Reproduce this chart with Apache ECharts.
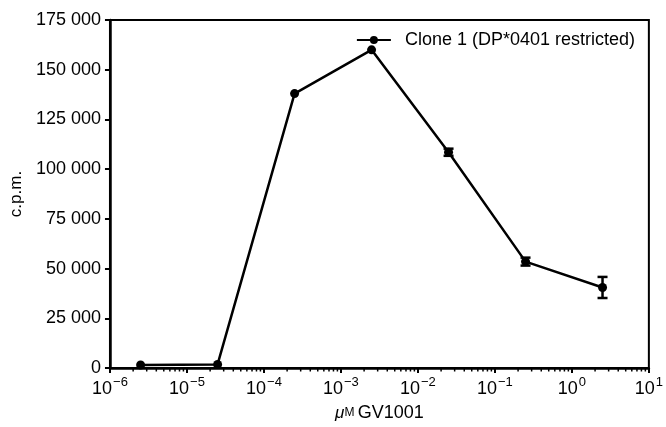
<!DOCTYPE html>
<html>
<head>
<meta charset="utf-8">
<script src="https://cdn.jsdelivr.net/npm/echarts@6/dist/echarts.min.js"></script>
<style>
html,body{margin:0;padding:0;background:#fff;}
#chart{width:666px;height:427px;}
</style>
</head>
<body>
<div id="chart"></div>
<script>
var concentrations = [2.5e-6, 2.5e-5, 2.5e-4, 2.5e-3, 2.5e-2, 2.5e-1, 2.5];
var cpm = [1500, 1800, 138000, 160000, 108500, 53500, 40500];
var cpmError = [0, 0, 0, 0, 1800, 2000, 5300];
var seriesName = 'Clone 1 (DP*0401 restricted)';
var yTicks = [0, 25000, 50000, 75000, 100000, 125000, 150000, 175000];
var xDecades = [-6, -5, -4, -3, -2, -1, 0, 1];

var FONT = 'Liberation Sans, Arial, Helvetica, sans-serif';

var lineData = concentrations.map(function (c, i) { return [c, cpm[i]]; });
var errData = concentrations.map(function (c, i) { return [c, cpm[i], cpmError[i]]; });
var minorTicks = [];
for (var d = 0; d < xDecades.length - 1; d++) {
  for (var k = 2; k <= 9; k++) minorTicks.push([k * Math.pow(10, xDecades[d]), 0]);
}

function fmtThousands(v) {
  var s = String(v);
  return s.replace(/\B(?=(\d{3})+(?!\d))/g, ' ');
}

var chart = echarts.init(document.getElementById('chart'));
chart.setOption({
  animation: false,
  backgroundColor: '#fff',
  textStyle: { fontFamily: FONT, color: '#000' },
  grid: {
    left: 109, right: 12, top: 20, bottom: 57,
    show: true, borderColor: '#000', borderWidth: 2, backgroundColor: 'transparent'
  },
  legend: {
    data: [seriesName],
    right: 26, top: 26,
    itemWidth: 34, itemHeight: 10, itemGap: 10,
    textStyle: { fontFamily: FONT, fontSize: 18, color: '#000', padding: [0, 0, 0, 9] }
  },
  xAxis: {
    type: 'log', logBase: 10,
    min: Math.pow(10, xDecades[0]), max: Math.pow(10, xDecades[xDecades.length - 1]),
    interval: 1,
    name: '{mu|μ}{m|M} {t|GV1001}',
    nameLocation: 'middle', nameGap: 36,
    nameTextStyle: {
      rich: {
        mu: { fontFamily: FONT, fontSize: 17, fontStyle: 'italic', color: '#000' },
        m: { fontFamily: FONT, fontSize: 12, color: '#000' },
        t: { fontFamily: FONT, fontSize: 18, color: '#000' }
      }
    },
    axisLine: { show: true, lineStyle: { color: '#000', width: 2.5 } },
    axisTick: { show: true, inside: false, length: 5, lineStyle: { color: '#000', width: 2 } },
    splitLine: { show: false },
    axisLabel: {
      margin: 8,
      formatter: function (v) {
        var e = Math.round(Math.log10(v));
        var es = e < 0 ? '\u2212' + Math.abs(e) : String(e);
        return '{b|10}{s|' + es + '}';
      },
      rich: {
        b: { fontFamily: FONT, fontSize: 18, color: '#000' },
        s: { fontFamily: FONT, fontSize: 13, color: '#000', padding: [0, 0, 14, 1] }
      }
    }
  },
  yAxis: {
    type: 'value', min: yTicks[0], max: yTicks[yTicks.length - 1], interval: 25000,
    name: 'c.p.m.', nameLocation: 'middle', nameGap: 82, nameRotate: 90,
    nameTextStyle: { fontFamily: FONT, fontSize: 17, color: '#000' },
    axisLine: { show: true, lineStyle: { color: '#000', width: 2.5 } },
    axisTick: { show: true, inside: false, length: 5, lineStyle: { color: '#000', width: 2 } },
    splitLine: { show: false },
    axisLabel: {
      margin: 9, fontFamily: FONT, fontSize: 18, color: '#000',
      formatter: function (v) { return fmtThousands(v); }
    }
  },
  series: [
    {
      name: seriesName, type: 'line', data: lineData,
      symbol: 'circle', symbolSize: 9,
      itemStyle: { color: '#000' },
      lineStyle: { color: '#000', width: 2.5 },
      z: 3
    },
    {
      name: 'err', type: 'custom', data: errData, z: 4, clip: false,
      renderItem: function (params, api) {
        var x = api.value(0), y = api.value(1), e = api.value(2);
        if (!e) return null;
        var top = api.coord([x, y + e]);
        var bot = api.coord([x, y - e]);
        var w = 5;
        var st = { stroke: '#000', lineWidth: 2.5 };
        return {
          type: 'group',
          children: [
            { type: 'line', shape: { x1: top[0], y1: top[1], x2: bot[0], y2: bot[1] }, style: st },
            { type: 'line', shape: { x1: top[0] - w, y1: top[1], x2: top[0] + w, y2: top[1] }, style: st },
            { type: 'line', shape: { x1: bot[0] - w, y1: bot[1], x2: bot[0] + w, y2: bot[1] }, style: st }
          ]
        };
      }
    },
    {
      name: 'minor', type: 'custom', data: minorTicks, z: 2, clip: false, silent: true,
      renderItem: function (params, api) {
        var p = api.coord([api.value(0), api.value(1)]);
        return { type: 'line', shape: { x1: p[0], y1: p[1], x2: p[0], y2: p[1] + 3.5 }, style: { stroke: '#000', lineWidth: 1.5 } };
      }
    }
  ]
});
</script>
</body>
</html>
